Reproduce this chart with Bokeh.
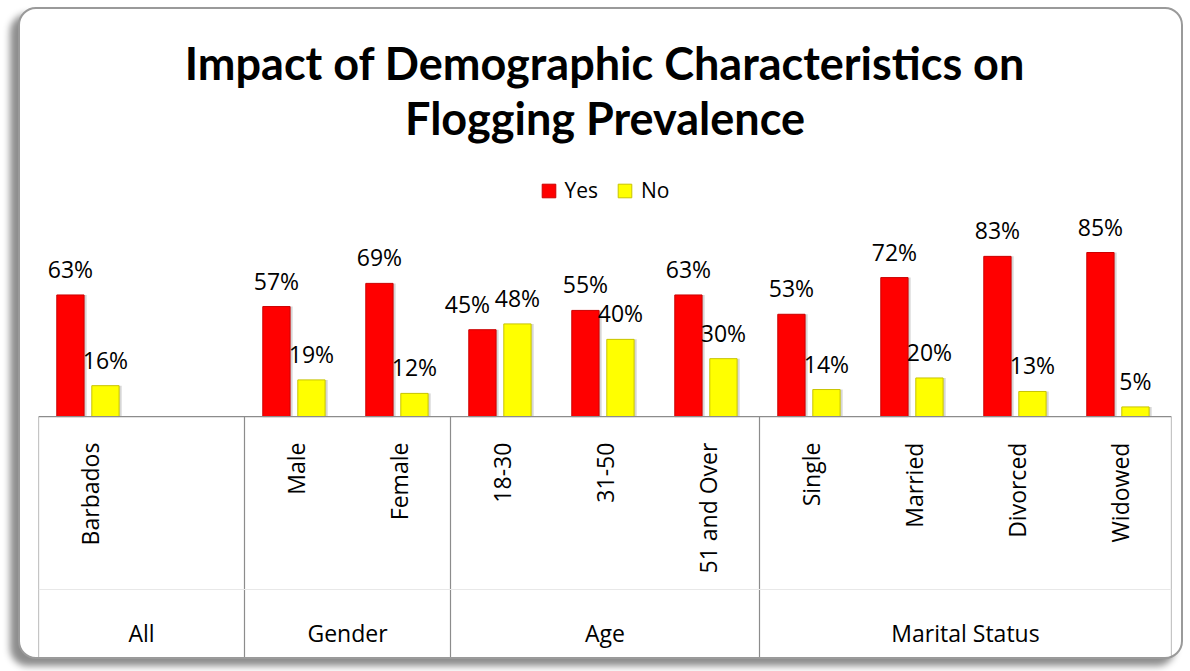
import math
from bokeh.plotting import figure
from bokeh.models import (ColumnDataSource, FactorRange, Range1d, Span, Label,
                          Legend, LegendItem)
from bokeh.transform import dodge
from bokeh.core.properties import value
from bokeh.embed import file_html
from bokeh.resources import INLINE

# ---------------- data ----------------
groups = ["All", "Gender", "Gender", "Age", "Age", "Age",
          "Marital Status", "Marital Status", "Marital Status", "Marital Status"]
categories = ["Barbados", "Male", "Female", "18-30", "31-50", "51 and Over",
              "Single", "Married", "Divorced", "Widowed"]
yes = [63, 57, 69, 45, 55, 63, 53, 72, 83, 85]
no = [16, 19, 12, 48, 40, 30, 14, 20, 13, 5]
series_names = ["Yes", "No"]
title_lines = ["Impact of Demographic Characteristics on", "Flogging Prevalence"]
# the "All" group has an empty second slot in the original chart
blank_slots = [("All", " ")]

# ---------------- factors ----------------
pairs = list(zip(groups, categories))
factors = []
for i, (g, c) in enumerate(pairs):
    factors.append((g, c))
    last_of_group = (i == len(pairs) - 1) or pairs[i + 1][0] != g
    if last_of_group:
        factors.extend(b for b in blank_slots if b[0] == g)

group_names = list(dict.fromkeys(groups))
group_first = [next(f for f in factors if f[0] == g) for g in group_names]

# label nudges (layout only): Excel shifted the overlapping 45% label left
yes_dx = [0, 0, 0, -15, 0, 0, 0, 0, 0, 0]

src = ColumnDataSource(dict(
    x=pairs,
    yes=yes, no=no,
    yes_txt=[f"{v}%" for v in yes],
    no_txt=[f"{v}%" for v in no],
    dx=yes_dx,
))
cat_src = ColumnDataSource(dict(x=factors, label=[f[1] for f in factors]))
grp_src = ColumnDataSource(dict(x=group_names))
sep_src = ColumnDataSource(dict(x=group_first))
end_src = ColumnDataSource(dict(x=[factors[-1]]))

Y0, Y1 = -126.9, 210.9

p = figure(
    x_range=FactorRange(*factors, factor_padding=0, group_padding=0,
                        subgroup_padding=0, range_padding=0),
    y_range=Range1d(Y0, Y1),
    width=1165, height=652,
    output_backend="svg", toolbar_location=None,
    x_axis_location=None, y_axis_location=None,
    min_border_left=18, min_border_right=14, min_border_top=0, min_border_bottom=0,
)
p.xgrid.grid_line_color = None
p.ygrid.grid_line_color = None
p.outline_line_color = None
p.background_fill_alpha = 0
p.border_fill_alpha = 0
p.styles = {
    "margin-left": "18px",
    "margin-top": "7px",
    "border": "2px solid #9a9a9a",
    "border-radius": "18px",
    "box-shadow": "-8px 7px 7px rgba(0,0,0,0.45)",
    "background-color": "#ffffff",
}

# axis box lines
p.add_layout(Span(location=-89.6, dimension="width", line_color="#e8e8e8", line_width=1))
p.add_layout(Span(location=0, dimension="width", line_color="#8c8c8c", line_width=1.2))
p.segment(x0=dodge("x", -0.5, range=p.x_range), y0=0,
          x1=dodge("x", -0.5, range=p.x_range), y1=Y0,
          source=sep_src, line_color="#8c8c8c", line_width=1.2)
p.segment(x0=dodge("x", 0.5, range=p.x_range), y0=0,
          x1=dodge("x", 0.5, range=p.x_range), y1=Y0,
          source=end_src, line_color="#8c8c8c", line_width=1.2)

BW = 0.265
OY, ON = -0.19, 0.15
# soft shadows
for off, col in ((OY, "yes"), (ON, "no")):
    p.vbar(x=dodge("x", off + 0.025, range=p.x_range), top=col, bottom=0, width=BW,
           source=src, fill_color="#000000", fill_alpha=0.16, line_color=None)

r_yes = p.vbar(x=dodge("x", OY, range=p.x_range), top="yes", bottom=0, width=BW,
               source=src, fill_color="#ff0000", line_color="#cc0000", line_width=1)
r_no = p.vbar(x=dodge("x", ON, range=p.x_range), top="no", bottom=0, width=BW,
              source=src, fill_color="#ffff00", line_color="#c8c400", line_width=1)

lbl = dict(text_align="center", text_baseline="middle", text_font=value("Open Sans"),
           text_font_size="23px", text_color="#000000")
p.text(x=dodge("x", OY, range=p.x_range), y="yes", text="yes_txt", x_offset="dx",
       y_offset=-26, source=src, **lbl)
p.text(x=dodge("x", ON, range=p.x_range), y="no", text="no_txt",
       y_offset=-26, source=src, **lbl)

# category and group labels
p.text(x="x", y=-13.5, text="label", source=cat_src, angle=math.pi / 2,
       text_align="right", text_baseline="middle", text_font=value("Open Sans"),
       text_font_size="23px", text_color="#000000")
p.text(x="x", y=-112, text="x", source=grp_src,
       text_align="center", text_baseline="middle", text_font=value("Open Sans"),
       text_font_size="23px", text_color="#000000")

# title
cx = len(factors) / 2
for t, yy in zip(title_lines, (183.2, 154.9)):
    p.add_layout(Label(x=cx, y=yy, text=t, text_align="center", text_baseline="middle",
                       text_font="Lato", text_font_style="bold", text_font_size="45px",
                       text_color="#000000"))

legend = Legend(items=[LegendItem(label=series_names[0], renderers=[r_yes]),
                       LegendItem(label=series_names[1], renderers=[r_no])],
                orientation="horizontal", location="top_center", margin=167,
                padding=0, spacing=18, label_standoff=8,
                glyph_width=17, glyph_height=17,
                label_text_font="Open Sans", label_text_font_size="21px",
                label_text_color="#000000",
                border_line_color=None, background_fill_alpha=0)
p.add_layout(legend)

open("out.html", "w").write(file_html(p, INLINE))
